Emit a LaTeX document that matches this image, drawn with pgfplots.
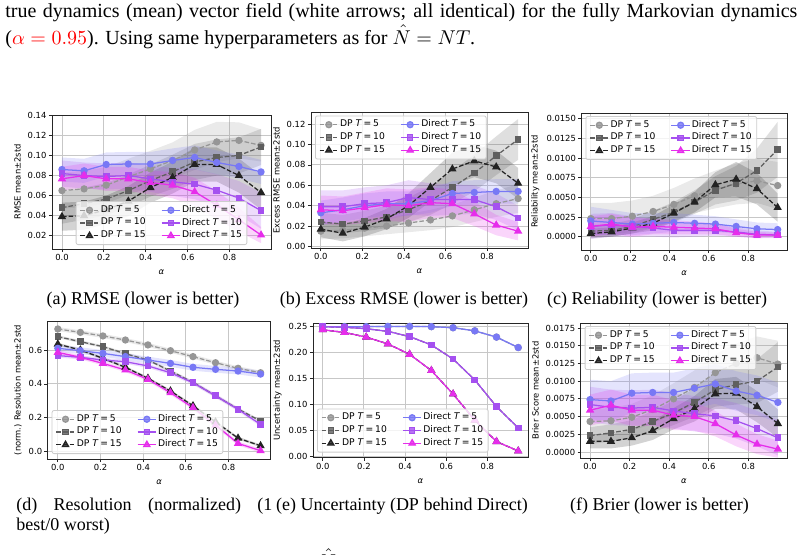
\documentclass[border=0pt]{standalone}
\usepackage{fontspec}
\setmainfont{Liberation Serif}
\newfontfamily\dv{DejaVu Sans}
\usepackage{xcolor}
\usepackage{pgfplots}
\usepackage{pgfplotstable}
\pgfplotsset{compat=1.18}

\definecolor{cA}{RGB}{150,150,150}
\definecolor{cB}{RGB}{95,95,95}
\definecolor{cC}{RGB}{35,35,35}
\definecolor{cD}{RGB}{120,120,245}
\definecolor{cE}{RGB}{165,80,240}
\definecolor{cF}{RGB}{230,45,235}

\tikzset{
 sA/.style={cA,line width=0.63pt,dash pattern=on 2.3pt off 1pt,mark=*,mark size=1.5pt,mark options={solid}},
 sB/.style={cB,line width=0.63pt,dash pattern=on 2.3pt off 1pt,mark=square*,mark size=1.35pt,mark options={solid}},
 sC/.style={cC,line width=0.63pt,dash pattern=on 2.3pt off 1pt,mark=triangle*,mark size=1.8pt,mark options={solid}},
 sD/.style={cD,line width=0.63pt,solid,mark=*,mark size=1.5pt},
 sE/.style={cE,line width=0.63pt,solid,mark=square*,mark size=1.35pt},
 sF/.style={cF,line width=0.63pt,solid,mark=triangle*,mark size=1.8pt},
}

% columns: x, DP5 (p), DP10 (q), DP15 (r), Direct5 (u), Direct10 (v), Direct15 (w); s* = 2 std
\pgfplotstableread{
x p sp q sq r sr u su v sv w sw
0.0 0.065 0.018 0.048 0.016 0.039 0.014 0.086 0.012 0.082 0.013 0.0767 0.012
0.10556 0.0667 0.018 0.052 0.016 0.040 0.014 0.0847 0.012 0.080 0.013 0.080 0.012
0.21111 0.0704 0.018 0.0565 0.016 0.046 0.014 0.091 0.012 0.079 0.013 0.0767 0.012
0.31667 0.0787 0.018 0.065 0.016 0.0545 0.015 0.0915 0.012 0.080 0.013 0.0767 0.012
0.42222 0.0866 0.018 0.075 0.016 0.068 0.015 0.0915 0.012 0.0767 0.013 0.073 0.012
0.52778 0.095 0.018 0.0837 0.017 0.078 0.016 0.095 0.012 0.0737 0.014 0.0704 0.013
0.63333 0.1055 0.020 0.0935 0.018 0.091 0.017 0.098 0.012 0.0714 0.015 0.0638 0.014
0.73889 0.1135 0.020 0.098 0.018 0.091 0.017 0.093 0.012 0.0654 0.016 0.0505 0.014
0.84444 0.115 0.018 0.100 0.018 0.080 0.017 0.089 0.012 0.0575 0.017 0.036 0.012
0.95 0.110 0.016 0.1085 0.018 0.063 0.017 0.0836 0.012 0.045 0.018 0.0207 0.008
}\tA
\pgfplotstableread{
x p sp q sq r sr u su v sv w sw
0.0 0.015 0.008 0.024 0.009 0.017 0.008 0.033 0.012 0.039 0.016 0.036 0.014
0.10556 0.016 0.008 0.022 0.009 0.013 0.008 0.036 0.012 0.039 0.016 0.035 0.014
0.21111 0.018 0.008 0.025 0.010 0.019 0.009 0.040 0.012 0.042 0.016 0.038 0.015
0.31667 0.020 0.008 0.029 0.011 0.027 0.010 0.042 0.012 0.043 0.017 0.041 0.016
0.42222 0.023 0.009 0.036 0.012 0.040 0.012 0.042 0.012 0.048 0.017 0.040 0.016
0.52778 0.026 0.010 0.045 0.014 0.058 0.014 0.045 0.012 0.046 0.016 0.043 0.015
0.63333 0.030 0.011 0.058 0.016 0.076 0.016 0.052 0.012 0.046 0.015 0.042 0.014
0.73889 0.036 0.012 0.072 0.018 0.084 0.016 0.053 0.012 0.046 0.014 0.032 0.012
0.84444 0.042 0.013 0.089 0.019 0.078 0.016 0.054 0.012 0.039 0.013 0.021 0.010
0.95 0.047 0.014 0.105 0.020 0.062 0.015 0.054 0.012 0.028 0.012 0.015 0.009
}\tB
\pgfplotstableread{
x p sp q sq r sr u su v sv w sw
0.0 0.0023 0.0020 0.0007 0.0008 0.0004 0.0006 0.0020 0.0018 0.0013 0.0016 0.0013 0.0013
0.10556 0.0023 0.0020 0.0008 0.0008 0.0006 0.0006 0.0018 0.0016 0.0015 0.0015 0.0016 0.0013
0.21111 0.0026 0.0020 0.0013 0.0009 0.0011 0.0007 0.0016 0.0014 0.0013 0.0013 0.0012 0.0012
0.31667 0.0032 0.0020 0.0022 0.0011 0.0017 0.0009 0.0017 0.0013 0.0011 0.0011 0.0013 0.0010
0.42222 0.0041 0.0021 0.0031 0.0013 0.0030 0.0011 0.0018 0.0012 0.0008 0.0009 0.0012 0.0009
0.52778 0.0052 0.0022 0.0044 0.0015 0.0044 0.0013 0.0017 0.0011 0.0008 0.0008 0.0011 0.0008
0.63333 0.0060 0.0024 0.0059 0.0018 0.0066 0.0016 0.0016 0.0010 0.0008 0.0007 0.0010 0.0007
0.73889 0.0067 0.0026 0.0068 0.0022 0.0073 0.0022 0.0013 0.0009 0.0006 0.0006 0.0005 0.0005
0.84444 0.0071 0.0028 0.0084 0.0028 0.0061 0.0020 0.0010 0.0008 0.0003 0.0005 0.0002 0.0004
0.95 0.0065 0.0030 0.0111 0.0035 0.0037 0.0018 0.0009 0.0008 0.0002 0.0004 0.0002 0.0003
}\tC
\pgfplotstableread{
x p sp q sq r sr u su v sv w sw
0.0 0.724 0.012 0.679 0.008 0.635 0.008 0.610 0.020 0.567 0.012 0.586 0.012
0.10556 0.704 0.012 0.649 0.008 0.600 0.008 0.596 0.020 0.557 0.012 0.557 0.012
0.21111 0.683 0.012 0.620 0.008 0.551 0.008 0.580 0.020 0.541 0.012 0.521 0.012
0.31667 0.659 0.012 0.578 0.008 0.498 0.008 0.561 0.020 0.531 0.012 0.482 0.012
0.42222 0.630 0.012 0.541 0.008 0.433 0.008 0.541 0.020 0.506 0.012 0.427 0.012
0.52778 0.596 0.012 0.476 0.008 0.358 0.008 0.521 0.020 0.466 0.012 0.348 0.012
0.63333 0.561 0.012 0.409 0.008 0.271 0.008 0.498 0.020 0.407 0.012 0.260 0.012
0.73889 0.525 0.012 0.330 0.008 0.176 0.008 0.486 0.020 0.330 0.012 0.157 0.012
0.84444 0.492 0.012 0.252 0.008 0.080 0.008 0.476 0.020 0.250 0.012 0.049 0.012
0.95 0.466 0.012 0.181 0.008 0.035 0.008 0.458 0.020 0.161 0.012 0.006 0.012
}\tD
\pgfplotstableread{
x p sp q sq r sr u su v sv w sw
0.0 0.249 0.001 0.249 0.001 0.243 0.001 0.249 0.001 0.249 0.001 0.243 0.001
0.10556 0.249 0.001 0.248 0.001 0.238 0.001 0.249 0.001 0.248 0.001 0.238 0.001
0.21111 0.249 0.001 0.245 0.001 0.229 0.001 0.249 0.001 0.245 0.001 0.229 0.001
0.31667 0.2495 0.001 0.240 0.001 0.216 0.001 0.2495 0.001 0.240 0.001 0.216 0.001
0.42222 0.2495 0.001 0.230 0.001 0.196 0.001 0.2495 0.001 0.230 0.001 0.196 0.001
0.52778 0.249 0.001 0.214 0.001 0.165 0.001 0.249 0.001 0.214 0.001 0.165 0.001
0.63333 0.247 0.001 0.187 0.001 0.120 0.001 0.247 0.001 0.187 0.001 0.120 0.001
0.73889 0.241 0.001 0.147 0.001 0.070 0.001 0.241 0.001 0.147 0.001 0.070 0.001
0.84444 0.229 0.001 0.096 0.001 0.029 0.001 0.229 0.001 0.096 0.001 0.029 0.001
0.95 0.209 0.001 0.055 0.001 0.011 0.001 0.209 0.001 0.055 0.001 0.011 0.001
}\tE
\pgfplotstableread{
x p sp q sq r sr u su v sv w sw
0.0 0.0043 0.0018 0.0023 0.0012 0.0015 0.0010 0.0074 0.0028 0.0067 0.0025 0.0059 0.0022
0.10556 0.0044 0.0018 0.0027 0.0012 0.0015 0.0010 0.0072 0.0028 0.0063 0.0025 0.0066 0.0022
0.21111 0.0049 0.0019 0.0032 0.0013 0.0020 0.0011 0.0083 0.0028 0.0062 0.0025 0.0059 0.0022
0.31667 0.0060 0.0020 0.0043 0.0015 0.0030 0.0013 0.0084 0.0028 0.0063 0.0025 0.0059 0.0022
0.42222 0.0075 0.0022 0.0055 0.0017 0.0047 0.0015 0.0084 0.0028 0.0058 0.0025 0.0052 0.0021
0.52778 0.0091 0.0024 0.0070 0.0020 0.0061 0.0018 0.0090 0.0028 0.0054 0.0025 0.0050 0.0020
0.63333 0.0112 0.0026 0.0088 0.0024 0.0082 0.0021 0.0096 0.0028 0.0051 0.0025 0.0040 0.0018
0.73889 0.0125 0.0028 0.0095 0.0028 0.0083 0.0023 0.0086 0.0028 0.0044 0.0025 0.0024 0.0016
0.84444 0.0133 0.0030 0.0100 0.0031 0.0064 0.0022 0.0080 0.0028 0.0033 0.0025 0.0011 0.0014
0.95 0.0124 0.0033 0.0120 0.0035 0.0040 0.0020 0.0070 0.0028 0.0020 0.0025 0.0004 0.0012
}\tF

% band of column #2 in table #1, stacked on top of the previous band (#3 removes it)
\newcommand\band[4]{%
  \addplot[draw=none,forget plot,stack plots=y] table[x=x,y expr=\thisrow{#2}-\thisrow{s#2}#3]{#1};
  \addplot[fill=#4,fill opacity=0.2,draw=none,forget plot,stack plots=y] table[x=x,y expr=2*\thisrow{s#2}]{#1} \closedcycle;
}
\newcommand\curve[3]{\addplot[#3,forget plot,stack plots=false] table[x=x,y=#2]{#1};}
\newcommand\allseries[1]{%
  \band{#1}{p}{}{cA}%
  \band{#1}{q}{-\thisrow{p}-\thisrow{sp}}{cB}%
  \band{#1}{r}{-\thisrow{q}-\thisrow{sq}}{cC}%
  \band{#1}{u}{-\thisrow{r}-\thisrow{sr}}{cD}%
  \band{#1}{v}{-\thisrow{u}-\thisrow{su}}{cE}%
  \band{#1}{w}{-\thisrow{v}-\thisrow{sv}}{cF}%
  \curve{#1}{p}{sA}\curve{#1}{q}{sB}\curve{#1}{r}{sC}%
  \curve{#1}{u}{sD}\curve{#1}{v}{sE}\curve{#1}{w}{sF}%
}
\newcommand\legs{%
  \addlegendimage{sA}\addlegendentry{DP \textit{T}\hspace{0.2em}=\hspace{0.2em}5}
  \addlegendimage{sD}\addlegendentry{Direct \textit{T}\hspace{0.2em}=\hspace{0.2em}5}
  \addlegendimage{sB}\addlegendentry{DP \textit{T}\hspace{0.2em}=\hspace{0.2em}10}
  \addlegendimage{sE}\addlegendentry{Direct \textit{T}\hspace{0.2em}=\hspace{0.2em}10}
  \addlegendimage{sC}\addlegendentry{DP \textit{T}\hspace{0.2em}=\hspace{0.2em}15}
  \addlegendimage{sF}\addlegendentry{Direct \textit{T}\hspace{0.2em}=\hspace{0.2em}15}
}

\pgfplotsset{
  myax/.style={
    scale only axis, anchor=south west,
    xmin=-0.0475, xmax=0.9975,
    xtick={0,0.2,0.4,0.6,0.8},
    grid=major, grid style={line width=0.45pt, color=black!22},
    axis line style={line width=0.4pt, color=black!85},
    tick align=outside, tick pos=left, major tick length=1.6pt,
    tick style={line width=0.4pt, black!85},
    ticklabel style={font=\dv\fontsize{4.2}{5}\selectfont, inner sep=1pt},
    /pgf/number format/assume math mode=true,
    scaled ticks=false,
    xticklabel style={/pgf/number format/.cd, fixed, fixed zerofill, precision=1},
    label style={font=\dv\fontsize{4.2}{5}\selectfont},
    ylabel style={yshift=-1pt},
    xlabel={\textit{α}},
    legend cell align=left,
    legend columns=2,
    legend image code/.code={\draw[mark repeat=2,mark phase=2] plot coordinates {(0pt,0pt)(4.6pt,0pt)(9.2pt,0pt)};},
    legend style={font=\dv\fontsize{4.6}{5.5}\selectfont, draw=black!20, rounded corners=1pt,
      fill=white, fill opacity=0.8, text opacity=1, line width=0.4pt,
      inner xsep=1.8pt, inner ysep=1.2pt, nodes={inner sep=0.7pt},
      /tikz/column 2/.style={column sep=7pt}},
  },
  legUL/.style={legend style={at={(0,1)}, anchor=north west, xshift=2pt, yshift=-1.5pt}},
  legLL/.style={legend style={at={(0,0)}, anchor=south west, xshift=2pt, yshift=2.5pt}},
}

\begin{document}
\begin{tikzpicture}
\useasboundingbox (0,0) rectangle (402pt,-277pt);

\node[anchor=base west, inner sep=0, font=\fontsize{10}{12}\selectfont] at (2.5pt,-8.5pt)
  {\makebox[396pt][s]{true dynamics (mean) vector field (white arrows; all identical) for the fully Markovian dynamics}};
\node[anchor=base west, inner sep=0, font=\fontsize{10}{12}\selectfont] at (2.5pt,-22pt)
  {(\textcolor{red}{$\alpha=0.95$}). Using same hyperparameters as for $\hat{N}=NT$.};

% (a)
\begin{axis}[myax, at={(26pt,-124.5pt)}, width=109.5pt, height=67pt,
  ymin=0.0068, ymax=0.1403, ytick={0.02,0.04,0.06,0.08,0.10,0.12,0.14},
  yticklabel style={/pgf/number format/.cd, fixed, fixed zerofill, precision=2},
  ylabel={RMSE mean±2std},
  legend style={at={(0.5,0)}, anchor=south, yshift=2pt}]
\legs
\allseries{\tA}
\end{axis}

% (b)
\begin{axis}[myax, legUL, at={(155.5pt,-124pt)}, width=108.5pt, height=67.75pt,
  ymin=-0.0015, ymax=0.1314, ytick={0,0.02,0.04,0.06,0.08,0.10,0.12},
  yticklabel style={/pgf/number format/.cd, fixed, fixed zerofill, precision=2},
  ylabel={Excess RMSE mean±2std}]
\legs
\allseries{\tB}
\end{axis}

% (c)
\begin{axis}[myax, legUL, at={(290.75pt,-125pt)}, width=102.75pt, height=68.5pt,
  ymin=-0.0017, ymax=0.01573, ytick={0,0.0025,0.005,0.0075,0.01,0.0125,0.015},
  yticklabel style={/pgf/number format/.cd, fixed, fixed zerofill, precision=4},
  ylabel={Reliability mean±2std}]
\legs
\allseries{\tC}
\end{axis}

% (d)
\begin{axis}[myax, legLL, at={(23.85pt,-229.5pt)}, width=111.5pt, height=69pt,
  ymin=-0.043, ymax=0.771, ytick={0,0.2,0.4,0.6},
  yticklabel style={/pgf/number format/.cd, fixed, fixed zerofill, precision=1},
  ylabel={(norm.) Resolution mean±2std}]
\legs
\allseries{\tD}
\end{axis}

% (e)
\begin{axis}[myax, legLL, at={(156.5pt,-228.75pt)}, width=107.5pt, height=67.25pt,
  ymin=-0.0015, ymax=0.256, ytick={0,0.05,0.10,0.15,0.20,0.25},
  yticklabel style={/pgf/number format/.cd, fixed, fixed zerofill, precision=2},
  ylabel={Uncertainty mean±2std}]
\legs
\allseries{\tE}
\end{axis}

% (f)
\begin{axis}[myax, legUL, at={(290.35pt,-229pt)}, width=103.3pt, height=67.5pt,
  ymin=-0.00085, ymax=0.0182, ytick={0,0.0025,0.005,0.0075,0.01,0.0125,0.015,0.0175},
  yticklabel style={/pgf/number format/.cd, fixed, fixed zerofill, precision=4},
  ylabel={Brier Score mean±2std}]
\legs
\allseries{\tF}
\end{axis}

% captions
\node[anchor=base, inner sep=0, font=\fontsize{9}{11}\selectfont] at (71.5pt,-152pt) {(a) RMSE (lower is better)};
\node[anchor=base, inner sep=0, font=\fontsize{9}{11}\selectfont] at (202pt,-152pt) {(b) Excess RMSE (lower is better)};
\node[anchor=base, inner sep=0, font=\fontsize{9}{11}\selectfont] at (328.5pt,-152pt) {(c) Reliability (lower is better)};
\node[anchor=base west, inner sep=0, font=\fontsize{9}{11}\selectfont] at (8pt,-255pt) {\makebox[128pt][s]{(d) Resolution (normalized) (1}};
\node[anchor=base west, inner sep=0, font=\fontsize{9}{11}\selectfont] at (8pt,-265pt) {best/0 worst)};
\node[anchor=base, inner sep=0, font=\fontsize{9}{11}\selectfont] at (201pt,-255pt) {(e) Uncertainty (DP behind Direct)};
\node[anchor=base, inner sep=0, font=\fontsize{9}{11}\selectfont] at (329.75pt,-255pt) {(f) Brier (lower is better)};
\node[anchor=base, inner sep=0, font=\fontsize{10}{12}\selectfont] at (163.5pt,-284pt) {$\hat{N}$};
\end{tikzpicture}
\end{document}
